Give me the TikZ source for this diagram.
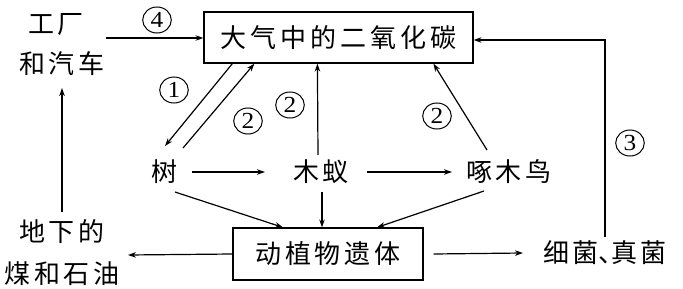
\documentclass[tikz,border=0pt]{standalone}
\usepackage{fontspec}
\setmainfont{Noto Sans CJK SC}
\newfontfamily\cjk[LetterSpace=15]{Noto Sans CJK SC}
\newfontfamily\digitfont{Liberation Serif}
\usetikzlibrary{arrows.meta,calc}
\begin{document}
\begin{tikzpicture}[x=1pt,y=-1pt,
  lbl/.style={font=\cjk\fontsize{26}{28}\selectfont, inner sep=0pt},
  num/.style={circle, draw, line width=1pt, minimum size=26pt, inner sep=0pt,
    font=\digitfont\fontsize{23}{23}\selectfont, xscale=1.1, transform shape},
  boxn/.style={draw, line width=1.2pt, inner sep=0pt, font=\cjk\fontsize{26}{28}\selectfont},
  arr/.style={line width=1.2pt, -{Stealth[length=8pt,width=5.5pt]}}]
\useasboundingbox (0,0) rectangle (683,289);
% nodes
\node[lbl] (fac1) at (56,24) {工厂};
\node[lbl] (fac2) at (62,64) {和汽车};
\node[boxn, minimum width=269pt, minimum height=51pt] (air) at (338.5,37.5) {大气中的二氧化碳};
\node[lbl] (tree) at (164,172) {树};
\node[lbl] (ant) at (321,172) {木蚁};
\node[lbl] (bird) at (509,172) {啄木鸟};
\node[boxn, minimum width=190pt, minimum height=52pt] (rem) at (328,254) {动植物遗体};
\node[lbl] (coal1) at (62,232) {地下的};
\node[lbl] (coal2) at (62,274) {煤和石油};
\node[lbl] (fungi) at (605,253) {细菌\hspace{-1pt}、\hspace{-13pt}真菌};
% labels
\node[num] (n4) at (157,20) {4};
\node[num] (n1) at (174,90) {1};
\node[num] (n2a) at (248,121) {2};
\node[num] (n2b) at (290,105) {2};
\node[num] (n2c) at (437,116) {2};
\node[num] (n3) at (630,143) {3};
% connectors
\coordinate (facR) at ([xshift=50pt,yshift=-14pt]fac1.center);
\draw[arr] (facR) -- (facR -| air.west);
\draw[arr] ([yshift=20pt]coal1.center) -- ([yshift=-24pt]fac2.center);
\draw[arr] ([xshift=29pt]air.south west) -- ([xshift=1pt,yshift=26pt]tree.center);
\draw[arr] ([xshift=19pt,yshift=24pt]tree.center) -- ([xshift=51pt]air.south west);
\draw[arr] ([xshift=-3pt,yshift=17pt]ant.center) -- ([xshift=114pt]air.south west);
\draw[arr] ([xshift=-22pt,yshift=22pt]bird.center) -- ([xshift=230pt]air.south west);
\draw[arr] ([xshift=28pt]tree.center) -- ([xshift=-56pt]ant.center);
\draw[arr] ([xshift=46pt]ant.center) -- ([xshift=-57pt]bird.center);
\draw[arr] ([xshift=11pt,yshift=-20pt]tree.center) -- ([xshift=-45pt]rem.north);
\draw[arr] ([xshift=1pt,yshift=-20pt]ant.center) -- ([xshift=-6pt]rem.north);
\draw[arr] ([xshift=-25pt,yshift=-19pt]bird.center) -- ([xshift=49pt]rem.north);
\draw[arr] (rem.west) -- ([xshift=66pt,yshift=-23pt]coal1.center);
\draw[arr] ([xshift=10pt]rem.east) -- ([xshift=-82pt]fungi.center);
\draw[arr] ([yshift=16pt]fungi.center) |- ([yshift=-2.5pt]air.east);
\end{tikzpicture}
\end{document}
